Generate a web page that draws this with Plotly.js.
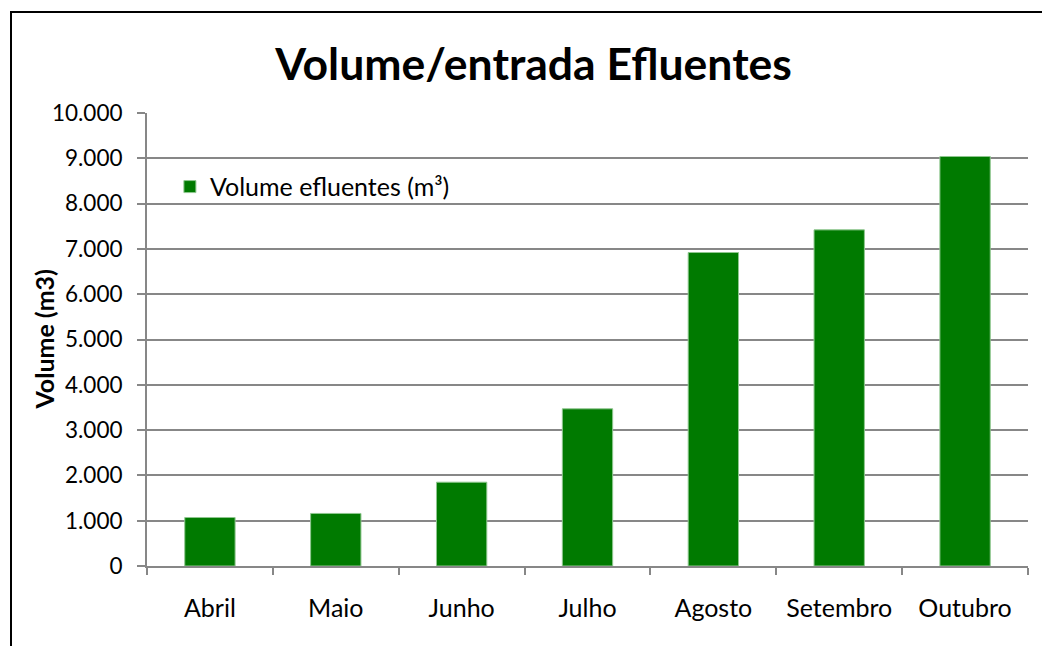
<!DOCTYPE html>
<html>
<head>
<meta charset="utf-8">
<script src="https://cdn.plot.ly/plotly-3.0.1.min.js"></script>
<style>
html,body{margin:0;padding:0;background:#fff;}
#wrap{position:relative;width:1042px;height:646px;overflow:hidden;}
#chart{width:1042px;height:646px;}
#frame{position:absolute;left:10px;top:11px;width:1100px;height:700px;border:2px solid #000;pointer-events:none;box-sizing:border-box;}
</style>
</head>
<body>
<div id="wrap"><div id="chart"></div><div id="frame"></div></div>
<script>
const categories = ["Abril","Maio","Junho","Julho","Agosto","Setembro","Outubro"];
const volumes = [1070, 1160, 1850, 3470, 6920, 7420, 9040];
const seriesName = "Volume efluentes (m³)";
const yAxisTitle = "Volume (m3)";
const yTickValues = [0,1000,2000,3000,4000,5000,6000,7000,8000,9000,10000];

const trace = {
  type: "bar",
  x: categories,
  y: volumes,
  name: seriesName,
  marker: {color: "#007a00", line: {color: "#8fc78f", width: 1}},
  showlegend: true
};

const layout = {
  width: 1042, height: 646,
  margin: {l: 147, r: 14, t: 113, b: 80},
  paper_bgcolor: "#ffffff", plot_bgcolor: "#ffffff",
  separators: ",.",
  font: {family: "Lato, 'Open Sans', sans-serif", size: 25, color: "#000"},
  title: {text: "<b>Volume/entrada Efluentes</b>", font: {family: "Lato, sans-serif", size: 44.5, color: "#000"}, x: 0.512, xanchor: "center", y: 0.9, yanchor: "middle"},
  bargap: 0.6,
  showlegend: true,
  legend: {x: 0.026, y: 0.837, xanchor: "left", yanchor: "middle", bgcolor: "rgba(0,0,0,0)", font: {size: 25}},
  xaxis: {
    type: "category",
    showline: true, linecolor: "#878787", linewidth: 2,
    ticks: "outside", tickson: "boundaries", ticklen: 7, tickcolor: "#878787", tickwidth: 2,
    ticklabelstandoff: 19,
    showgrid: false, tickfont: {size: 25}
  },
  yaxis: {
    range: [0, 10000],
    tickvals: yTickValues,
    tickformat: ",d",
    showline: true, linecolor: "#878787", linewidth: 2,
    ticks: "outside", ticklen: 8, tickcolor: "#878787", tickwidth: 2,
    ticklabelstandoff: 10,
    showgrid: true, gridcolor: "#878787", gridwidth: 2,
    zeroline: false,
    tickfont: {size: 22.5}
  },
  annotations: [{
    text: "<b>" + yAxisTitle + "</b>",
    xref: "paper", yref: "paper",
    x: -0.118, y: 0.5, xanchor: "center", yanchor: "middle",
    textangle: -90, showarrow: false,
    font: {size: 25, color: "#000"}
  }]
};

Plotly.newPlot("chart", [trace], layout, {staticPlot: true, displayModeBar: false});
</script>
</body>
</html>
